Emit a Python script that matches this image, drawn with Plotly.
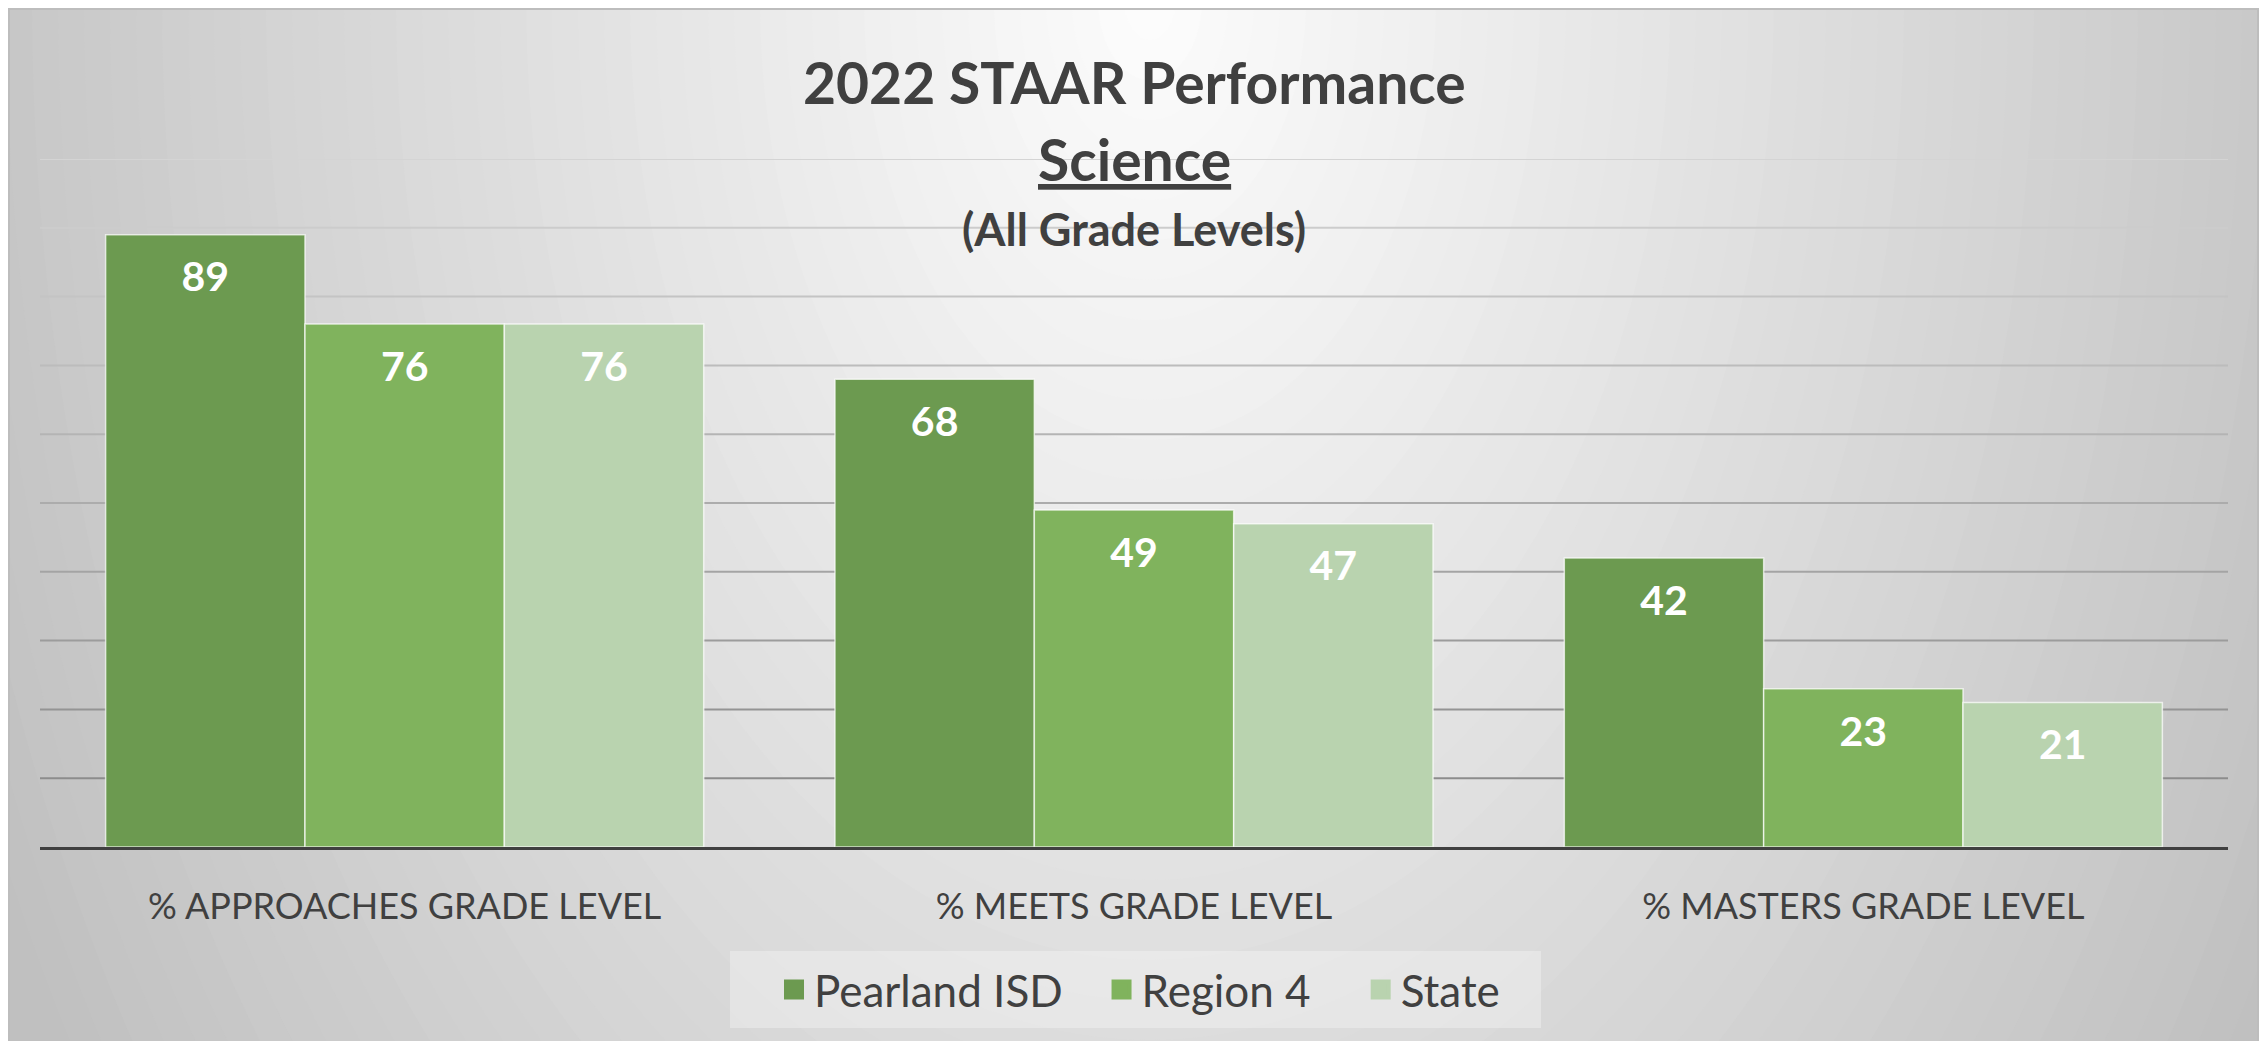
import plotly.graph_objects as go

# data
categories = ["% APPROACHES GRADE LEVEL", "% MEETS GRADE LEVEL", "% MASTERS GRADE LEVEL"]
pearland = [89, 68, 42]
region4 = [76, 49, 23]
state = [76, 47, 21]

series_names = ["Pearland ISD", "Region 4", "State"]
series_colors = ["#6c9a50", "#80b35d", "#b9d3af"]
legend_pad = [3, 4, 0]  # trailing nbsp per legend entry, for spacing
grid_values = list(range(10, 101, 10))

# page has an 8px body margin, so the figure is drawn a bit smaller/offset
W, H = 2267, 1041
OFF = 8
FW, FH = W - OFF, H - OFF
L, R, T, B = 40 - OFF, 39, 159 - OFF, 194
FONT = "Lato, Carlito, Calibri, sans-serif"


def px_x(v):
    return (v - OFF - L) / (FW - L - R)


def px_y(v):
    return (FH - B - (v - OFF)) / (FH - T - B)


fig = go.Figure()
for name, vals, col, pad in zip(series_names, [pearland, region4, state], series_colors, legend_pad):
    fig.add_trace(go.Bar(
        name=name, x=categories, y=vals, showlegend=False, offsetgroup=name,
        marker=dict(color=col, line=dict(color="rgba(255,255,255,0.7)", width=1.5)),
        hoverinfo="x+y+name",
    ))
    # value labels a little below the bar top
    fig.add_trace(go.Scatter(
        name=name, x=categories, y=vals, showlegend=False, offsetgroup=name,
        mode="markers+text", text=[str(v) for v in vals], textposition="bottom center",
        marker=dict(size=40, color="rgba(0,0,0,0)"), hoverinfo="skip",
        textfont=dict(family=FONT, size=41, color="white", weight="bold"),
    ))
    # legend-only entry (bigger swatch than the bar default)
    fig.add_trace(go.Scatter(
        name=name + "\u00a0" * pad,
        x=[None], y=[None], mode="markers", offsetgroup=name,
        marker=dict(symbol="square", size=16, color=col, line=dict(color=col, width=4)),
    ))

shapes = []
# chart area base + radial grey gradient, brightest at top centre
shapes.append(dict(type="rect", xref="paper", yref="paper", layer="below",
                   x0=px_x(8), x1=px_x(2258), y0=px_y(H + 5), y1=px_y(8),
                   fillcolor="rgb(192,192,192)", line=dict(width=0)))
base = 192
cx, cy = 1150, 0
rx, ry = 1300, 2000
steps = 50
for i in range(steps):
    f = 1 - i / steps
    g = int(round(base + (253 - base) * (i / steps)))
    shapes.append(dict(
        type="circle", xref="paper", yref="paper", layer="below",
        x0=px_x(cx - rx * f), x1=px_x(cx + rx * f),
        y0=px_y(cy + ry * f), y1=px_y(cy - ry * f),
        fillcolor=f"rgb({g},{g},{g})", line=dict(width=0),
    ))
# white strip right of the frame + the frame itself
shapes.append(dict(type="rect", xref="paper", yref="paper", layer="below",
                   x0=px_x(2258), x1=px_x(W + 5), y0=px_y(H + 5), y1=px_y(0),
                   fillcolor="white", line=dict(width=0)))
shapes.append(dict(type="rect", xref="paper", yref="paper", layer="below",
                   x0=px_x(9), x1=px_x(2258), y0=px_y(H + 5), y1=px_y(9),
                   fillcolor="rgba(0,0,0,0)", line=dict(color="#bdbdbd", width=2)))
# legend panel
shapes.append(dict(type="rect", xref="paper", yref="paper", layer="below",
                   x0=px_x(730), x1=px_x(1541), y0=px_y(1028), y1=px_y(951),
                   fillcolor="rgba(255,255,255,0.3)", line=dict(width=0)))
# gridlines: lighter toward the top like the original
for v in grid_values:
    t = (v - 10) / 90
    g = int(round(140 + (212 - 140) * t))
    shapes.append(dict(type="line", xref="paper", yref="y", layer="below",
                       x0=0, x1=1, y0=v, y1=v,
                       line=dict(color=f"rgb({g},{g},{g})", width=2)))

title_color = "#404040"
annotations = [
    dict(text="<b>2022 STAAR Performance</b>", x=0.5, y=px_y(82), xref="paper", yref="paper",
         xanchor="center", yanchor="middle", showarrow=False,
         font=dict(family=FONT, size=57, color=title_color)),
    dict(text="<b><u>Science</u></b>", x=0.5, y=px_y(159), xref="paper", yref="paper",
         xanchor="center", yanchor="middle", showarrow=False,
         font=dict(family=FONT, size=57, color=title_color)),
    dict(text="<b>(All Grade Levels)</b>", x=0.5, y=px_y(229), xref="paper", yref="paper",
         xanchor="center", yanchor="middle", showarrow=False,
         font=dict(family=FONT, size=45, color=title_color)),
]

fig.update_layout(
    width=FW, height=FH,
    margin=dict(l=L, r=R, t=T, b=B, autoexpand=False),
    paper_bgcolor="white", plot_bgcolor="rgba(0,0,0,0)",
    barmode="group", bargap=0.18, bargroupgap=0,
    scattermode="group", scattergap=0.18,
    shapes=shapes, annotations=annotations,
    legend=dict(orientation="h", x=px_x(774), xanchor="left", y=px_y(990), yanchor="middle",
                bgcolor="rgba(0,0,0,0)", font=dict(family=FONT, size=44, color="#404040"),
                itemclick=False, itemdoubleclick=False),
    font=dict(family=FONT, color="#404040"),
)
fig.update_xaxes(showline=True, linecolor="#404040", linewidth=3, showgrid=False,
                 ticks="outside", ticklen=26, tickcolor="rgba(0,0,0,0)",
                 tickfont=dict(family=FONT, size=36, color="#404040"))
fig.update_yaxes(range=[0, 100], dtick=10, showgrid=False,
                 showticklabels=False, zeroline=False, showline=False)

fig.write_html("out.html")
